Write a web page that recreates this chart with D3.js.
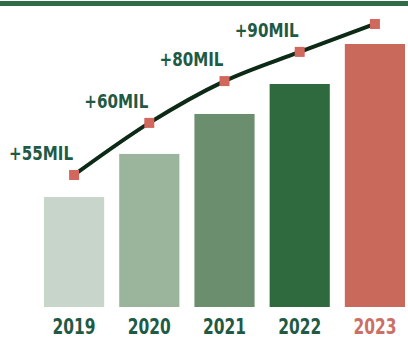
<!DOCTYPE html>
<html>
<head>
<meta charset="utf-8">
<script src="https://cdn.jsdelivr.net/npm/d3@7"></script>
<style>
  body { margin: 0; background: #ffffff; }
  svg { display: block; }
  .year, .growth { font-family: "DejaVu Sans Condensed", "Liberation Sans Narrow", sans-serif; font-weight: bold; }
</style>
</head>
<body>
<div id="chart"></div>
<script>
// data
const years = ["2019", "2020", "2021", "2022", "2023"];
const barValues = [41.8, 58.2, 73.4, 84.8, 100];      // bar heights (2023 = 100)
const trendValues = [50.2, 70, 85.9, 97, 107.6];      // curve points, same scale
const growthLabels = ["+55MIL", "+60MIL", "+80MIL", "+90MIL", ""];
const barColors = ["#c8d5cb", "#9ab59c", "#6b8f6e", "#2f6a3e", "#c9695c"];
const yearColors = ["#1f5a45", "#1f5a45", "#1f5a45", "#1f5a45", "#cc6f66"];

const width = 408, height = 342;
const margin = {top: 44, right: 3, bottom: 35, left: 44};

const svg = d3.select("#chart")
  .append("svg")
  .attr("width", width)
  .attr("height", height);

// thin green rule across the top
svg.append("rect")
  .attr("x", 0).attr("y", 1)
  .attr("width", width).attr("height", 5)
  .attr("fill", "#2f6b45");

const xScale = d3.scaleBand()
  .domain(years)
  .range([margin.left, width - margin.right])
  .paddingInner(0.2)
  .paddingOuter(0);

const yScale = d3.scaleLinear()
  .domain([0, 100])
  .range([height - margin.bottom, margin.top]);

//bars
svg.selectAll("rect.bar")
  .data(years)
  .join("rect")
    .attr("class", "bar")
    .attr("x", d => xScale(d))
    .attr("y", (d, i) => yScale(barValues[i]))
    .attr("width", xScale.bandwidth())
    .attr("height", (d, i) => yScale(0) - yScale(barValues[i]))
    .attr("fill", (d, i) => barColors[i]);

//year labels under the bars (condensed with textLength)
svg.selectAll("text.year")
  .data(years)
  .join("text")
    .attr("class", "year")
    .attr("x", d => xScale(d) + xScale.bandwidth() / 2)
    .attr("y", 334)
    .attr("text-anchor", "middle")
    .attr("font-size", 22)
    .attr("textLength", 43)
    .attr("lengthAdjust", "spacingAndGlyphs")
    .attr("fill", (d, i) => yearColors[i])
    .text(d => d);

//trend curve
const trend = years.map((y, i) => ({year: y, value: trendValues[i], label: growthLabels[i]}));
const line = d3.line()
  .x(d => xScale(d.year) + xScale.bandwidth() / 2)
  .y(d => yScale(d.value))
  .curve(d3.curveMonotoneX);

svg.append("path")
  .datum(trend)
  .attr("d", line)
  .attr("fill", "none")
  .attr("stroke", "#0d2a17")
  .attr("stroke-width", 4)
  .attr("stroke-linecap", "round");

//square markers
const mk = 10;
svg.selectAll("rect.marker")
  .data(trend)
  .join("rect")
    .attr("class", "marker")
    .attr("x", d => xScale(d.year) + xScale.bandwidth() / 2 - mk / 2)
    .attr("y", d => yScale(d.value) - mk / 2)
    .attr("width", mk)
    .attr("height", mk)
    .attr("fill", "#d2675e");

//growth labels
svg.selectAll("text.growth")
  .data(trend.filter(d => d.label))
  .join("text")
    .attr("class", "growth")
    .attr("x", d => xScale(d.year) + xScale.bandwidth() / 2 - 1)
    .attr("y", d => yScale(d.value) - 15)
    .attr("text-anchor", "end")
    .attr("font-size", 20)
    .attr("textLength", 64)
    .attr("lengthAdjust", "spacingAndGlyphs")
    .attr("fill", "#1f5a45")
    .text(d => d.label);
</script>
</body>
</html>
